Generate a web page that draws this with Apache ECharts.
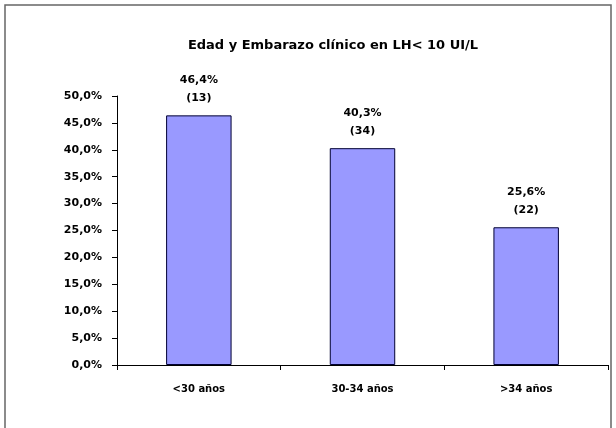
<!DOCTYPE html>
<html>
<head>
<meta charset="utf-8">
<script src="https://cdn.jsdelivr.net/npm/echarts@6/dist/echarts.min.js"></script>
<style>
html,body{margin:0;padding:0;background:#fff;}
#c{width:616px;height:428px;}
</style>
</head>
<body>
<div id="c"></div>
<script>
var titleText = 'Edad y Embarazo clínico en LH< 10 UI/L';
var categories = ['<30 años', '30-34 años', '>34 años'];
var percentValues = [46.4, 40.3, 25.6];
var counts = [13, 34, 22];
var yTicksMin = 0, yTicksMax = 50, yTicksStep = 5;

var chart = echarts.init(document.getElementById('c'));
var fontFam = '"DejaVu Sans", sans-serif';
function fmt(v){ return v.toFixed(1).replace('.', ',') + '%'; }

chart.setOption({
  animation: false,
  backgroundColor: '#ffffff',
  graphic: [{
    type: 'rect',
    shape: {x: 5, y: 5, width: 606, height: 440},
    style: {fill: 'none', stroke: '#666666', lineWidth: 1.5},
    silent: true
  }],
  title: {
    text: titleText,
    left: 328, top: 34, textAlign: 'center',
    textStyle: {fontFamily: fontFam, fontSize: 13, fontWeight: 'bold', color: '#000'}
  },
  grid: {left: 117, right: 8, top: 96, bottom: 63},
  xAxis: {
    type: 'category',
    data: categories,
    axisLine: {lineStyle: {color: '#000', width: 1}},
    axisTick: {show: true, length: 5, inside: false, alignWithLabel: false, lineStyle: {color: '#000'}},
    axisLabel: {fontFamily: fontFam, fontSize: 10, fontWeight: 'bold', color: '#000', margin: 19}
  },
  yAxis: {
    type: 'value',
    min: yTicksMin, max: yTicksMax, interval: yTicksStep,
    axisLine: {show: true, lineStyle: {color: '#000', width: 1}},
    axisTick: {show: true, length: 5, lineStyle: {color: '#000'}},
    splitLine: {show: false},
    axisLabel: {fontFamily: fontFam, fontSize: 11, fontWeight: 'bold', color: '#000', margin: 15,
      formatter: function(v){ return fmt(v); }}
  },
  series: [{
    type: 'bar',
    data: percentValues,
    barWidth: '40%',
    itemStyle: {color: '#9999FF', borderColor: '#000033', borderWidth: 1},
    label: {
      show: true, position: 'top', distance: 8,
      fontFamily: fontFam, fontSize: 11, fontWeight: 'bold', color: '#000', lineHeight: 18, align: 'center',
      formatter: function(p){ return fmt(p.value) + '\n(' + counts[p.dataIndex] + ')'; }
    }
  }]
});
</script>
</body>
</html>
